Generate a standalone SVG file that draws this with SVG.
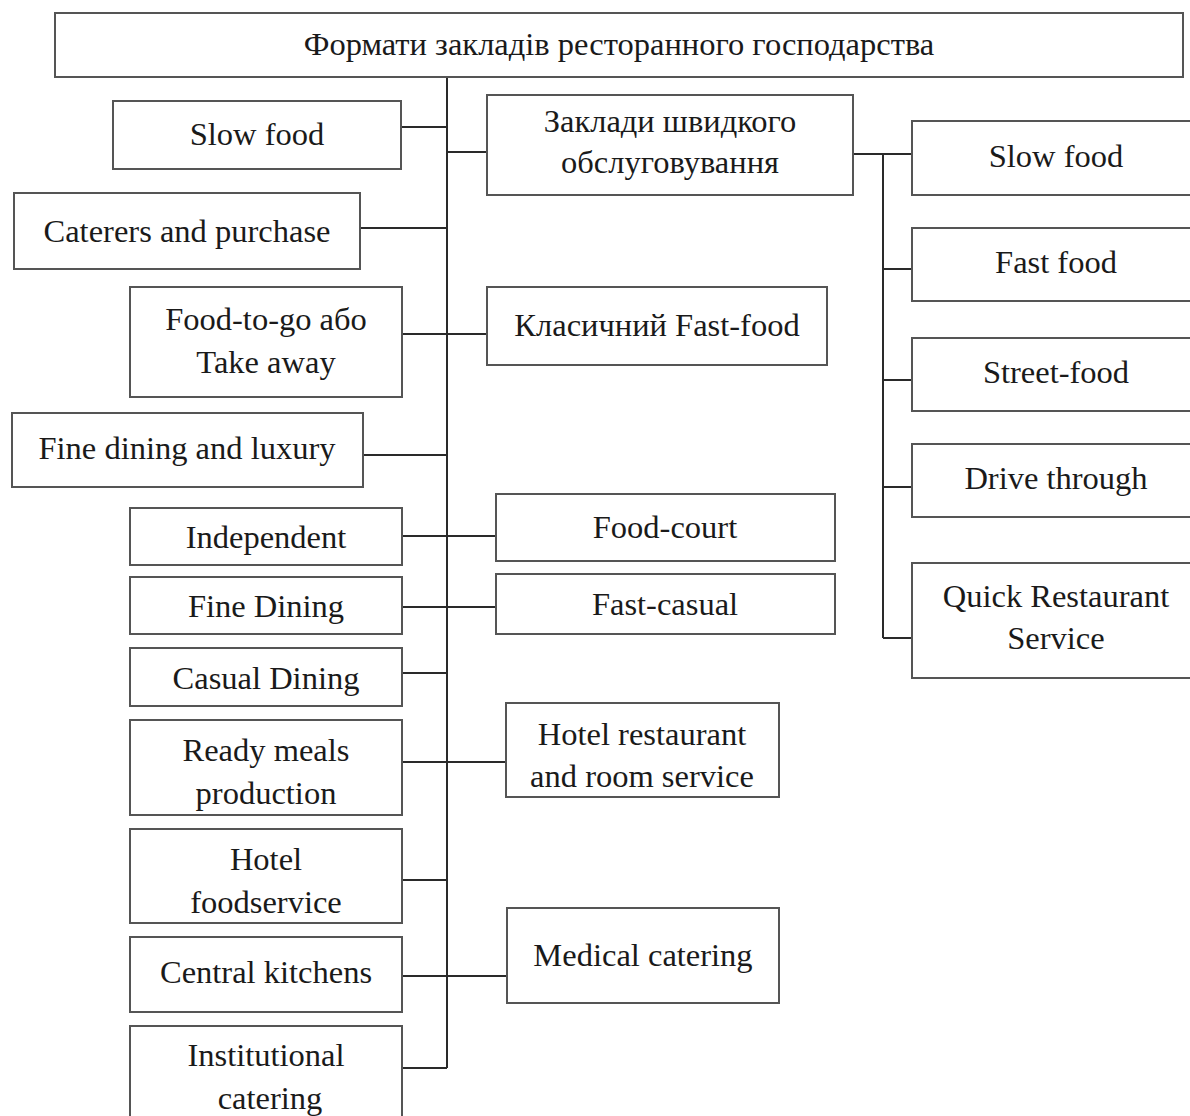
<svg xmlns="http://www.w3.org/2000/svg" width="1190" height="1116" viewBox="0 0 1190 1116">
<style>
.b{fill:#fff;stroke:#555;stroke-width:2}
.t{font-family:"Liberation Serif","Times New Roman",serif;font-size:32.5px;fill:#1a1a1a;text-anchor:middle}
.c{stroke:#2a2a2a;stroke-width:2;fill:none}
</style>
<rect width="1190" height="1116" fill="#fff"/>
<g id="connectors">
<path class="c" d="M447 77V1068"/>
<path class="c" d="M401 127H447" stroke-width="3"/>
<path class="c" d="M447 152H487"/>
<path class="c" d="M360 228H447"/>
<path class="c" d="M402 334H487"/>
<path class="c" d="M363 455H447"/>
<path class="c" d="M402 536H496"/>
<path class="c" d="M402 607H496"/>
<path class="c" d="M402 673H447"/>
<path class="c" d="M402 762H506"/>
<path class="c" d="M402 880H447"/>
<path class="c" d="M402 976H507"/>
<path class="c" d="M402 1068H447"/>
<path class="c" d="M853 154H912"/>
<path class="c" d="M883 154V638"/>
<path class="c" d="M883 269H912M883 380H912M883 487H912M883 638H912"/>
</g>
<g id="root"><rect class="b" x="55" y="13" width="1128" height="64"/><text class="t" x="619" y="55">Формати закладів ресторанного господарства</text></g>
<g id="slow-food-l"><rect class="b" x="113" y="101" width="288" height="68"/><text class="t" x="257" y="145">Slow food</text></g>
<g id="fast-service"><rect class="b" x="487" y="95" width="366" height="100"/><text class="t" x="670" y="132">Заклади швидкого</text><text class="t" x="670" y="173">обслуговування</text></g>
<g id="caterers"><rect class="b" x="14" y="193" width="346" height="76"/><text class="t" x="187" y="242">Caterers and purchase</text></g>
<g id="food-to-go"><rect class="b" x="130" y="287" width="272" height="110"/><text class="t" x="266" y="330">Food-to-go або</text><text class="t" x="266" y="373">Take away</text></g>
<g id="classic-ff"><rect class="b" x="487" y="287" width="340" height="78"/><text class="t" x="657" y="336">Класичний Fast-food</text></g>
<g id="fine-luxury"><rect class="b" x="12" y="413" width="351" height="74"/><text class="t" x="187" y="459">Fine dining and luxury</text></g>
<g id="independent"><rect class="b" x="130" y="508" width="272" height="57"/><text class="t" x="266" y="548">Independent</text></g>
<g id="fine-dining"><rect class="b" x="130" y="577" width="272" height="57"/><text class="t" x="266" y="617">Fine Dining</text></g>
<g id="casual"><rect class="b" x="130" y="648" width="272" height="58"/><text class="t" x="266" y="689">Casual Dining</text></g>
<g id="ready-meals"><rect class="b" x="130" y="720" width="272" height="95"/><text class="t" x="266" y="761">Ready meals</text><text class="t" x="266" y="804">production</text></g>
<g id="hotel-fs"><rect class="b" x="130" y="829" width="272" height="94"/><text class="t" x="266" y="870">Hotel</text><text class="t" x="266" y="913">foodservice</text></g>
<g id="central"><rect class="b" x="130" y="937" width="272" height="75"/><text class="t" x="266" y="983">Central kitchens</text></g>
<g id="institutional"><rect class="b" x="130" y="1026" width="272" height="110"/><text class="t" x="266" y="1066">Institutional</text><text class="t" x="270" y="1109">catering</text></g>
<g id="food-court"><rect class="b" x="496" y="494" width="339" height="67"/><text class="t" x="665" y="538">Food-court</text></g>
<g id="fast-casual"><rect class="b" x="496" y="574" width="339" height="60"/><text class="t" x="665" y="615">Fast-casual</text></g>
<g id="hotel-rest"><rect class="b" x="506" y="703" width="273" height="94"/><text class="t" x="642" y="745">Hotel restaurant</text><text class="t" x="642" y="787">and room service</text></g>
<g id="medical"><rect class="b" x="507" y="908" width="272" height="95"/><text class="t" x="643" y="966">Medical catering</text></g>
<g id="slow-food-r"><rect class="b" x="912" y="121" width="290" height="74"/><text class="t" x="1056" y="167">Slow food</text></g>
<g id="fast-food"><rect class="b" x="912" y="228" width="290" height="73"/><text class="t" x="1056" y="273">Fast food</text></g>
<g id="street-food"><rect class="b" x="912" y="338" width="290" height="73"/><text class="t" x="1056" y="383">Street-food</text></g>
<g id="drive"><rect class="b" x="912" y="444" width="290" height="73"/><text class="t" x="1056" y="489">Drive through</text></g>
<g id="quick"><rect class="b" x="912" y="563" width="290" height="115"/><text class="t" x="1056" y="607">Quick Restaurant</text><text class="t" x="1056" y="649">Service</text></g>
</svg>
